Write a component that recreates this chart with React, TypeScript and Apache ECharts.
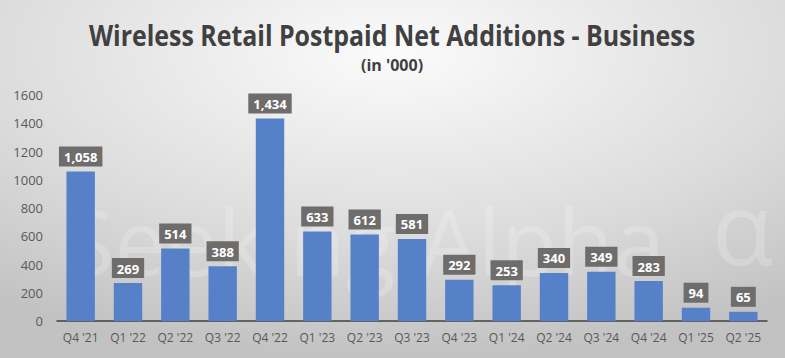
import React, { useEffect, useRef } from "react";
import * as echarts from "echarts";

const categories = ["Q4 '21", "Q1 '22", "Q2 '22", "Q3 '22", "Q4 '22", "Q1 '23", "Q2 '23", "Q3 '23", "Q4 '23", "Q1 '24", "Q2 '24", "Q3 '24", "Q4 '24", "Q1 '25", "Q2 '25"];
const values = [1058, 269, 514, 388, 1434, 633, 612, 581, 292, 253, 340, 349, 283, 94, 65];
const titleText = "Wireless Retail Postpaid Net Additions - Business";
const subtitleText = "(in '000)";
const watermarkText = "Seeking Alpha";
const watermarkMark = "α";

const FONT = "'Open Sans', sans-serif";

export default function App() {
  const ref = useRef<HTMLDivElement>(null);
  useEffect(() => {
    document.body.style.margin = "0";
    const chart = echarts.init(ref.current!, null, { renderer: "svg" });
    chart.setOption({
      animation: false,
      backgroundColor: {
        type: "radial",
        x: 0.5,
        y: 0.15,
        r: 0.85,
        colorStops: [
          { offset: 0, color: "#fbfbfb" },
          { offset: 0.6, color: "#dcdcdc" },
          { offset: 1, color: "#c2c2c2" },
        ],
      },
      graphic: [
        {
          type: "text",
          x: 392,
          y: 35,
          scaleX: 0.89,
          silent: true,
          style: {
            text: titleText,
            align: "center",
            verticalAlign: "middle",
            fontFamily: FONT,
            fontSize: 28,
            fontWeight: "bold",
            fill: "#404040",
          },
        },
        {
          type: "text",
          x: 392,
          y: 65,
          silent: true,
          style: {
            text: subtitleText,
            align: "center",
            verticalAlign: "middle",
            fontFamily: FONT,
            fontSize: 16,
            fontWeight: "bold",
            fill: "#404040",
          },
        },
        {
          type: "text",
          x: 64,
          y: 240,
          silent: true,
          style: {
            text: watermarkText,
            align: "left",
            verticalAlign: "middle",
            fontSize: 92,
            fontFamily: FONT,
            fill: "rgba(255,255,255,0.2)",
          },
        },
        {
          type: "text",
          x: 712,
          y: 226,
          silent: true,
          style: {
            text: watermarkMark,
            align: "left",
            verticalAlign: "middle",
            fontSize: 100,
            fontFamily: FONT,
            fill: "rgba(255,255,255,0.2)",
          },
        },
      ],
      grid: { left: 57, right: 18, top: 95, bottom: 37, containLabel: false },
      xAxis: {
        type: "category",
        data: categories,
        axisLine: { lineStyle: { color: "#404040", width: 1.5 } },
        axisTick: { show: false },
        axisLabel: { interval: 0, color: "#595959", fontSize: 12, fontFamily: FONT, margin: 10 },
      },
      yAxis: {
        type: "value",
        min: 0,
        max: 1600,
        interval: 200,
        splitLine: { show: false },
        axisLine: { show: false },
        axisTick: { show: false },
        axisLabel: {
          color: "#595959",
          fontSize: 13,
          fontFamily: FONT,
          margin: 14,
          formatter: (v: number) => String(v),
        },
      },
      series: [
        {
          type: "bar",
          data: values,
          barWidth: "60%",
          itemStyle: { color: "#5681c9" },
          label: {
            show: true,
            position: "top",
            distance: 5,
            backgroundColor: "#6f6c6c",
            padding: [4, 5, 3, 5],
            color: "#ffffff",
            fontWeight: "bold",
            fontSize: 13,
            fontFamily: FONT,
            formatter: (p: any) => Number(p.value).toLocaleString("en-US"),
          },
        },
      ],
    });
    return () => chart.dispose();
  }, []);
  return <div ref={ref} style={{ width: 785, height: 358 }} />;
}
